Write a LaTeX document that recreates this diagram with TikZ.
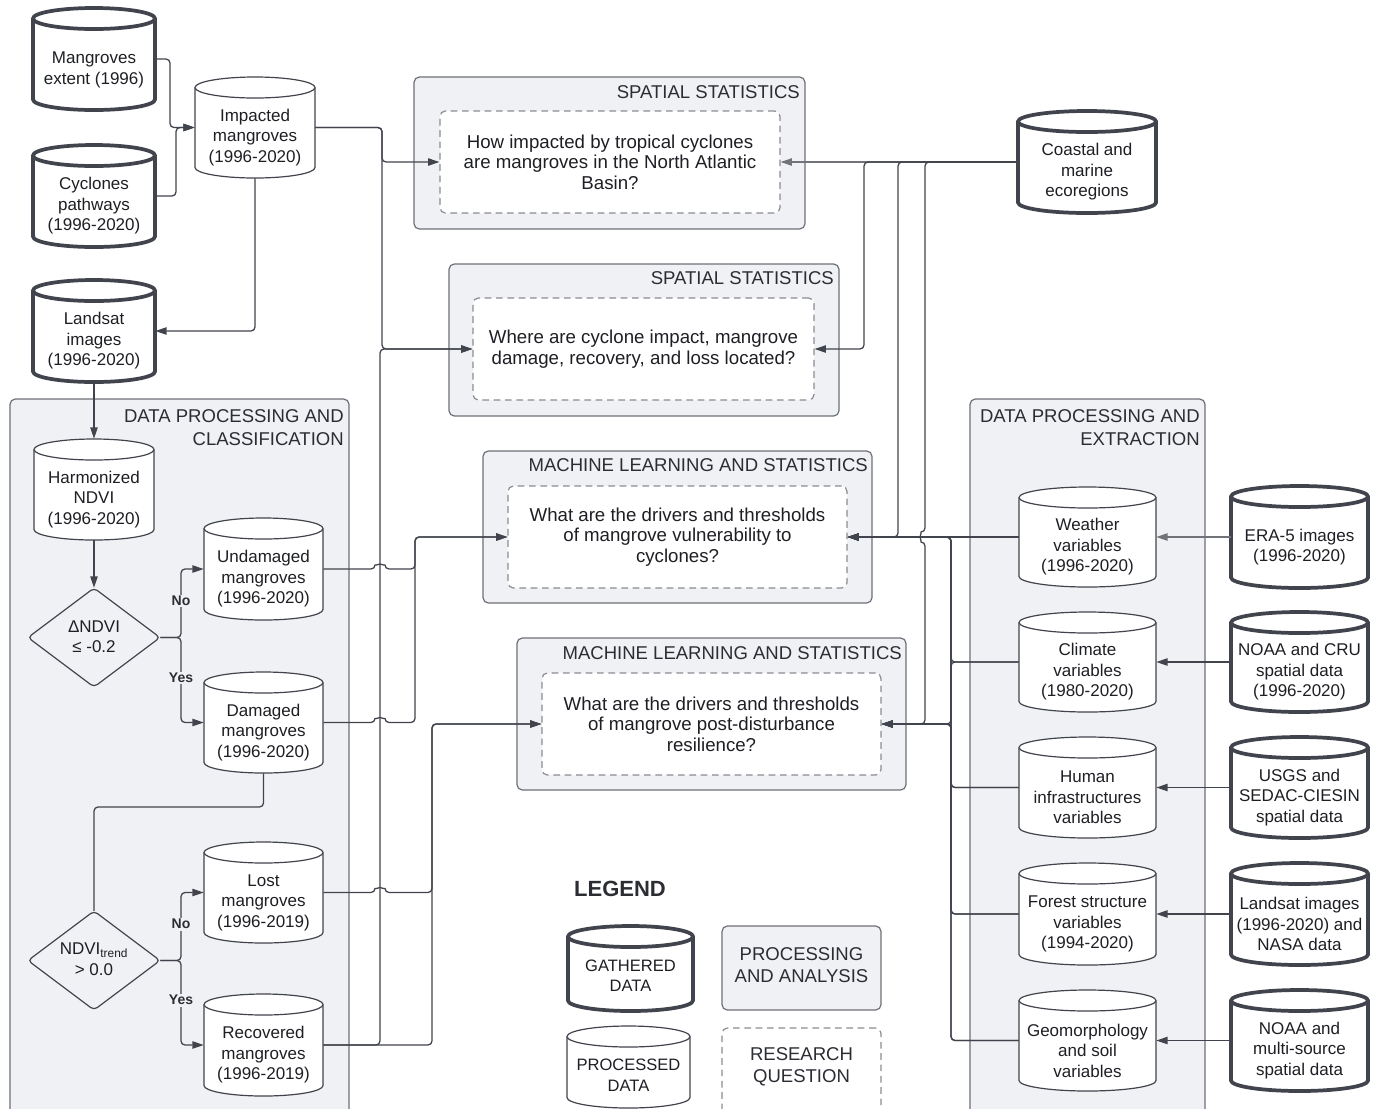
\documentclass[tikz,border=0pt]{standalone}
\usepackage{fontspec}
\setmainfont{Liberation Sans}
\usetikzlibrary{arrows.meta,fit}
\definecolor{panel}{HTML}{F0F1F4}
\definecolor{pborder}{HTML}{6E7079}
\definecolor{ink}{HTML}{41444C}
\definecolor{txt}{HTML}{1E1F24}
\definecolor{ttl}{HTML}{2B2D33}
\definecolor{dashc}{HTML}{8A8C92}
\tikzset{
  conn/.style={draw=ink, line width=0.95pt, rounded corners=3pt},
  arr/.style={conn, -{Triangle[length=8.5pt,width=5.5pt]}},
  lightarr/.style={arr, draw=ink!75},
  panelbox/.style={fill=panel, draw=pborder, line width=0.9pt, rounded corners=4pt},
  qbox/.style={fill=white, draw=dashc, line width=0.9pt, dash pattern=on 5pt off 3.5pt, rounded corners=4pt},
  gath/.style={fill=white, draw=ink, line width=2.8pt},
  proc/.style={fill=white, draw=ink, line width=0.9pt},
  cyltext/.style={align=center, font=\fontsize{12.75}{15.4}\selectfont, text=txt, inner sep=0pt},
  qtext/.style={align=center, font=\fontsize{14}{15.4}\selectfont, text=txt, inner sep=0pt},
  ptitle/.style={align=right, font=\fontsize{13.9}{17}\selectfont, text=ttl, inner sep=0pt, anchor=north east},
  lab/.style={font=\bfseries\fontsize{10.5}{12}\selectfont, fill=panel, inner sep=1.2pt, text=ttl},
  legtext/.style={align=center, font=\fontsize{13.9}{16.5}\selectfont, text=ttl, inner sep=0pt}
}
\newcommand\dbcyl[8]{%
  \pgfmathsetmacro\cyA{(#5-#3)*0.375}%
  \pgfmathsetmacro\cyB{(#3+#5)/2}%
  \pgfmathsetmacro\cyC{#4+10.5}%
  \pgfmathsetmacro\cyD{#6-10.5}%
  \pgfmathsetmacro\cyE{(#4+#6)/2+#8}%
  \filldraw[#1] (#3,\cyC) -- (#3,\cyD) arc[start angle=180,end angle=360,x radius=\cyA pt,y radius=7.875pt] -- (#5,\cyC) arc[start angle=0,end angle=180,x radius=\cyA pt,y radius=7.875pt] -- cycle;
  \draw[#1] (#3,\cyC) arc[start angle=180,end angle=360,x radius=\cyA pt,y radius=7.875pt];
  \node[fit={(#3,#4)(#5,#6)},inner sep=0pt] (#2) {};
  \node[cyltext] at (\cyB,\cyE) {#7};
}
\begin{document}
\begin{tikzpicture}[x=0.75pt,y=-0.75pt]
\useasboundingbox (0,0) rectangle (1378,1108);
\clip (0,0) rectangle (1378,1108);
\fill[white] (0,0) rectangle (1378,1108);

% ---------- panels ----------
\node[panelbox, fit={(10,399)(349,1125)}, inner sep=0pt] (lp) {};
\node[ptitle] at (344,409.5) {DATA PROCESSING AND\\CLASSIFICATION};
\node[panelbox, fit={(970,399)(1205,1125)}, inner sep=0pt] (rp) {};
\node[ptitle] at (1200,409.5) {DATA PROCESSING AND\\EXTRACTION};

\node[panelbox, fit={(414,77)(805,229)}, inner sep=0pt] (p1) {};
\node[ptitle] at (800,85.5) {SPATIAL STATISTICS};
\node[panelbox, fit={(449,264)(839,416)}, inner sep=0pt] (p2) {};
\node[ptitle] at (834,271.5) {SPATIAL STATISTICS};
\node[panelbox, fit={(483,451)(872,603)}, inner sep=0pt] (p3) {};
\node[ptitle] at (868,458.5) {MACHINE LEARNING AND STATISTICS};
\node[panelbox, fit={(517,638)(906,790)}, inner sep=0pt] (p4) {};
\node[ptitle] at (902,646.5) {MACHINE LEARNING AND STATISTICS};

% ---------- research questions ----------
\node[qbox, fit={(440,111)(780,213)}, inner sep=0pt] (q1) {};
\node[qtext] at (q1.center) {How impacted by tropical cyclones\\are mangroves in the North Atlantic\\Basin?};
\node[qbox, fit={(473,298)(814,400)}, inner sep=0pt] (q2) {};
\node[qtext] at (q2.center) {Where are cyclone impact, mangrove\\damage, recovery, and loss located?};
\node[qbox, fit={(508,486)(847,588)}, inner sep=0pt] (q3) {};
\node[qtext] at (q3.center) {What are the drivers and thresholds\\of mangrove vulnerability to\\cyclones?};
\node[qbox, fit={(542,673)(881,775)}, inner sep=0pt] (q4) {};
\node[qtext] at (q4.center) {What are the drivers and thresholds\\of mangrove post-disturbance\\resilience?};

% ---------- cylinders ----------
\dbcyl{gath}{ext}{33}{8}{155}{110}{Mangroves\\extent (1996)}{11}
\dbcyl{gath}{cyc}{33}{145}{155}{247}{Cyclones\\pathways\\(1996-2020)}{10}
\dbcyl{gath}{lan}{33}{280}{155}{382}{Landsat\\images\\(1996-2020)}{10}
\dbcyl{proc}{imp}{195}{77}{315}{178}{Impacted\\mangroves\\(1996-2020)}{10}
\dbcyl{proc}{har}{34}{439}{154}{540}{Harmonized\\NDVI\\(1996-2020)}{10}
\dbcyl{proc}{undam}{204}{518}{323}{620}{Undamaged\\mangroves\\(1996-2020)}{10}
\dbcyl{proc}{dam}{204}{672}{323}{773}{Damaged\\mangroves\\(1996-2020)}{10}
\dbcyl{proc}{lost}{204}{842}{323}{943}{Lost\\mangroves\\(1996-2019)}{10}
\dbcyl{proc}{rec}{204}{994}{323}{1096}{Recovered\\mangroves\\(1996-2019)}{10}
\dbcyl{gath}{coast}{1018}{111}{1156}{213}{Coastal and\\marine\\ecoregions}{10}
\dbcyl{proc}{wea}{1019}{487}{1156}{587}{Weather\\variables\\(1996-2020)}{10}
\dbcyl{proc}{cli}{1019}{612}{1156}{712}{Climate\\variables\\(1980-2020)}{10}
\dbcyl{proc}{hum}{1019}{737}{1156}{838}{Human\\infrastructures\\variables}{10}
\dbcyl{proc}{fore}{1019}{863}{1156}{965}{Forest structure\\variables\\(1994-2020)}{10}
\dbcyl{proc}{geo}{1019}{990}{1156}{1091}{Geomorphology\\and soil\\variables}{10}
\dbcyl{gath}{era}{1231}{486}{1368}{588}{ERA-5 images\\(1996-2020)}{10}
\dbcyl{gath}{noaa}{1231}{612}{1368}{712}{NOAA and CRU\\spatial data\\(1996-2020)}{10}
\dbcyl{gath}{usgs}{1231}{737}{1368}{838}{USGS and\\SEDAC-CIESIN\\spatial data}{10}
\dbcyl{gath}{lsat}{1231}{863}{1368}{965}{Landsat images\\(1996-2020) and\\NASA data}{10}
\dbcyl{gath}{nms}{1231}{990}{1368}{1091}{NOAA and\\multi-source\\spatial data}{10}

% ---------- decisions ----------
\filldraw[proc, fill=panel, rounded corners=3pt] (94,588) -- (160,637.5) -- (94,687) -- (28,637.5) -- cycle;
\node[fit={(28,588)(160,687)}, inner sep=0pt] (d1) {};
\node[cyltext] at (94,636.5) {ΔNDVI\\≤ -0.2};
\filldraw[proc, fill=panel, rounded corners=3pt] (94,911) -- (160,960.5) -- (94,1010) -- (28,960.5) -- cycle;
\node[fit={(28,911)(160,1010)}, inner sep=0pt] (d2) {};
\node[cyltext] at (94,959) {NDVI\textsubscript{trend}\\> 0.0};

% ---------- legend ----------
\node[font=\bfseries\fontsize{16.5}{18}\selectfont, text=ttl, inner sep=0pt] (leg) at (620,889) {LEGEND};
\dbcyl{gath}{lgath}{568}{926}{693}{1011}{\fontsize{12.4}{15.4}\selectfont GATHERED\\\fontsize{12.4}{15.4}\selectfont DATA}{7}
\dbcyl{proc}{lproc}{567}{1026}{690}{1108}{\fontsize{12.4}{15.4}\selectfont PROCESSED\\\fontsize{12.4}{15.4}\selectfont DATA}{8}
\node[panelbox, fit={(722,926)(881,1010)}, inner sep=0pt] (lpa) {};
\node[legtext] at (801.5,965) {PROCESSING\\AND ANALYSIS};
\node[qbox, fit={(722,1028)(881,1118)}, inner sep=0pt] (lrq) {};
\node[legtext] at (801.5,1067) {RESEARCH\\QUESTION};

% ---------- connectors: left ----------
\draw[arr] (ext.east) -- (170,59) -- (170,127.5) -- (imp.west);
\draw[arr] (cyc.east) -- (176,196) -- (176,127.5) -- (imp.west);
\draw[arr] (imp.south) -- (255,331) -- (lan.east);
\draw[arr] (lan.south) -- (har.north);
\draw[arr] (har.south) -- (d1.north);
\draw[arr] (d1.east) -- (181,637.5) -- (181,569) -- (undam.west);
\draw[arr] (d1.east) -- (181,637.5) -- (181,722.5) -- (dam.west);
\draw[conn] (dam.south) -- (263.5,807) -- (94,807) -- (d2.north);
\draw[arr] (d2.east) -- (181,960.5) -- (181,892.5) -- (lost.west);
\draw[arr] (d2.east) -- (181,960.5) -- (181,1045) -- (rec.west);
\node[lab] at (181,601) {No};
\node[lab] at (181,678) {Yes};
\node[lab] at (181,924) {No};
\node[lab] at (181,1000) {Yes};

\draw[arr] (imp.east) -- (382,127.5) -- (382,162) -- (q1.west);
\draw[arr] (imp.east) -- (382,127.5) -- (382,349) -- (q2.west);
\draw[arr] (rec.east) -- (380,1045) -- (380,349) -- (q2.west);
\draw[arr] (rec.east) -- (432,1045) -- (432,724) -- (q4.west);
\draw[arr] (lost.east) -- (375,892.5) arc[start angle=180,end angle=0,radius=3.75pt] -- (432,892.5) -- (432,724) -- (q4.west);
\draw[arr] (undam.east) -- (375,569) arc[start angle=180,end angle=0,radius=3.75pt] -- (415,569) -- (415,537) -- (q3.west);
\draw[arr] (dam.east) -- (375,722.5) arc[start angle=180,end angle=0,radius=3.75pt] -- (415,722.5) -- (415,537) -- (q3.west);

% ---------- connectors: right ----------
\draw[lightarr] (coast.west) -- (q1.east);
\draw[arr] (coast.west) -- (864,162) -- (864,349) -- (q2.east);
\draw[arr] (coast.west) -- (898,162) -- (898,537) -- (q3.east);
\draw[arr] (coast.west) -- (925,162) -- (925,532) arc[start angle=90,end angle=270,radius=3.75pt] -- (925,724) -- (q4.east);
\draw[arr] (wea.west) -- (q3.east);
\foreach \n/\yy in {cli/662, hum/787.5, fore/914, geo/1040.5} {
  \draw[arr] (\n.west) -- (951,\yy) -- (951,537) -- (q3.east);
  \draw[arr] (\n.west) -- (951,\yy) -- (951,724) -- (q4.east);
}
\draw[lightarr] (era.west) -- (wea.east);
\draw[arr] (noaa.west) -- (cli.east);
\draw[arr] (usgs.west) -- (hum.east);
\draw[arr] (lsat.west) -- (fore.east);
\draw[arr] (nms.west) -- (geo.east);
\end{tikzpicture}
\end{document}
